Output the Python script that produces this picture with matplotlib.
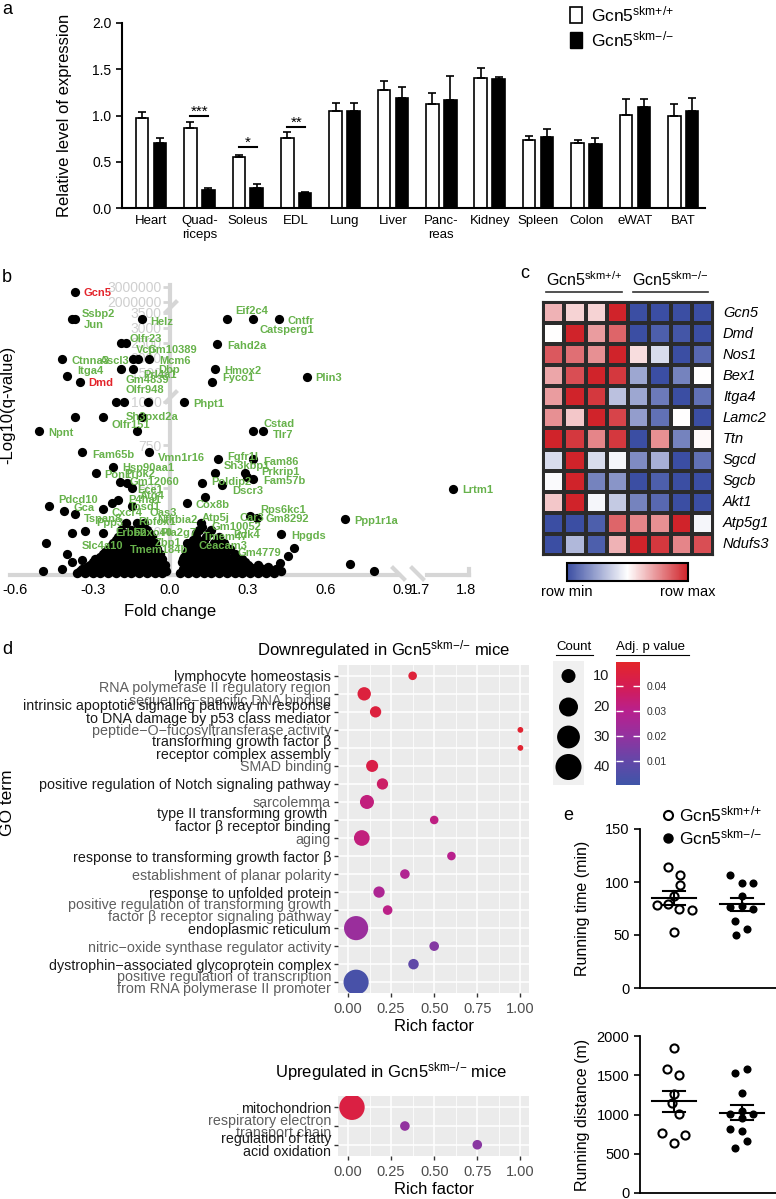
import numpy as np
import matplotlib
matplotlib.use('Agg')
import matplotlib.pyplot as plt
from matplotlib.colors import LinearSegmentedColormap, Normalize
from matplotlib.patches import Patch
from matplotlib.lines import Line2D
import matplotlib.cm as cm

plt.rcParams['font.family'] = ['Liberation Sans', 'DejaVu Sans']
plt.rcParams['mathtext.fontset'] = 'custom'
plt.rcParams['mathtext.rm'] = 'Liberation Sans'
plt.rcParams['mathtext.it'] = 'Liberation Sans:italic'
plt.rcParams['mathtext.bf'] = 'Liberation Sans:bold'

W, H = 776, 1199

def rect(l, t, r, b):
    return [l / W, 1 - b / H, (r - l) / W, (b - t) / H]

def fx(x):
    return x / W

def fy(y):
    return 1 - y / H

WT = r'Gcn5$^{\mathrm{skm{+}/{+}}}$'
KO = r'Gcn5$^{\mathrm{skm{-}/{-}}}$'

# ---------------- data ----------------
# panel a
tissues = ['Heart', 'Quad-\nriceps', 'Soleus', 'EDL', 'Lung', 'Liver', 'Panc-\nreas',
           'Kidney', 'Spleen', 'Colon', 'eWAT', 'BAT']
wt_mean = [0.97, 0.87, 0.55, 0.76, 1.05, 1.28, 1.12, 1.41, 0.73, 0.70, 1.01, 1.00]
wt_err = [0.07, 0.06, 0.02, 0.06, 0.08, 0.09, 0.12, 0.10, 0.05, 0.035, 0.17, 0.12]
ko_mean = [0.70, 0.20, 0.22, 0.16, 1.05, 1.19, 1.17, 1.40, 0.77, 0.69, 1.09, 1.05]
ko_err = [0.06, 0.02, 0.04, 0.01, 0.08, 0.12, 0.26, 0.02, 0.08, 0.07, 0.09, 0.14]
sig_idx = [1, 2, 3]
sig_y = [1.0, 0.66, 0.875]
sig_txt = ['***', '*', '**']

# panel b: volcano (fold change, -log10 q)
vol_fc = [-0.368, -0.38, -0.368, -0.108, -0.19, -0.17, -0.42, -0.143, -0.124, -0.081,
          -0.19, -0.143, -0.40, -0.35, -0.21, -0.18, -0.085, 0.055, -0.368, -0.26,
          -0.108, -0.13, -0.507, 0.22, 0.32, 0.42, 0.183, 0.174, 0.163, 0.53,
          0.322, 0.36, -0.34, -0.081, 0.185, 0.322, -0.22, -0.287, 0.174, 0.29,
          0.298, 0.322, -0.194, -0.167, -0.147, 0.124, 0.2, 1.77, 0.136, -0.468,
          -0.41, -0.368, -0.225, -0.2, -0.26, -0.147, 0.066, 0.31, 0.336, 0.678,
          -0.33, -0.38, -0.26, 0.43, 0.124, -0.48, 0.48, 0.066, -0.4, 0.457,
          0.694, 0.79, -0.49, -0.42, -0.38, -0.34, 0.426]
vol_q = [2.67e6, 3300, 3300, 3300, 2500, 2500, 1970, 1970, 1970, 1970,
         1633, 1633, 1448, 1343, 1000, 1000, 1000, 1000, 912, 912,
         912, 831, 831, 3300, 3300, 3300, 2467, 1633, 1343, 1435,
         831, 831, 710, 710, 669, 669, 623, 588, 588, 588,
         566, 554, 537, 531, 502, 531, 519, 496, 450, 398,
         369, 352, 415, 433, 381, 398, 415, 340, 329, 323,
         254, 242, 242, 237, 277, 185, 156, 185, 121, 110,
         63, 23, 23, 35, 75, 87, 69]
blob_q = [10, 22, 35, 47, 60, 75, 90, 105, 120, 135, 150, 168, 185, 200, 220, 240, 260, 300]
blob_fc = [
    [-0.36, -0.33, -0.30, -0.27, -0.24, -0.21, -0.18, -0.15, -0.12, -0.09, -0.06, -0.03,
     0.04, 0.07, 0.10, 0.13, 0.16, 0.19, 0.22, 0.25, 0.28, 0.31, 0.34, 0.37, 0.40],
    [-0.35, -0.315, -0.285, -0.255, -0.225, -0.195, -0.165, -0.135, -0.105, -0.075, -0.045,
     -0.015, 0.055, 0.085, 0.115, 0.145, 0.175, 0.205, 0.235, 0.265, 0.295, 0.325, 0.355,
     0.385, 0.43],
    [-0.34, -0.30, -0.26, -0.22, -0.19, -0.16, -0.13, -0.10, -0.07, -0.04,
     0.05, 0.08, 0.11, 0.14, 0.17, 0.20, 0.23, 0.26, 0.29, 0.32, 0.36, 0.41],
    [-0.32, -0.28, -0.245, -0.21, -0.175, -0.145, -0.115, -0.085, -0.055, -0.025,
     0.065, 0.095, 0.125, 0.155, 0.185, 0.215, 0.245, 0.28, 0.31, 0.345, 0.38],
    [-0.31, -0.27, -0.23, -0.20, -0.17, -0.14, -0.11, -0.08, -0.05, -0.02,
     0.06, 0.09, 0.12, 0.15, 0.18, 0.21, 0.24, 0.27, 0.30, 0.34],
    [-0.30, -0.26, -0.225, -0.19, -0.16, -0.13, -0.10, -0.07, -0.04,
     0.045, 0.075, 0.105, 0.135, 0.165, 0.195, 0.225, 0.26, 0.29],
    [-0.29, -0.25, -0.21, -0.18, -0.15, -0.12, -0.09, -0.06, -0.03,
     0.05, 0.08, 0.11, 0.14, 0.17, 0.20, 0.24, 0.28],
    [-0.27, -0.235, -0.2, -0.17, -0.14, -0.11, -0.08, -0.05, 0.055, 0.085, 0.115, 0.15,
     0.18, 0.22],
    [-0.26, -0.22, -0.19, -0.16, -0.13, -0.10, -0.07, -0.04, 0.06, 0.10, 0.13, 0.16, 0.20, 0.25],
    [-0.25, -0.21, -0.18, -0.15, -0.12, -0.09, -0.06, 0.065, 0.095, 0.13, 0.17, 0.21],
    [-0.24, -0.20, -0.17, -0.14, -0.11, -0.08, -0.05, 0.07, 0.11, 0.15, 0.19, 0.23],
    [-0.23, -0.19, -0.16, -0.13, -0.10, -0.07, 0.07, 0.10, 0.14, 0.19],
    [-0.22, -0.18, -0.15, -0.12, -0.09, -0.06, 0.08, 0.12, 0.17, 0.21],
    [-0.21, -0.17, -0.14, -0.11, -0.08, 0.09, 0.13],
    [-0.20, -0.16, -0.13, -0.10, -0.07, 0.10, 0.14, 0.19],
    [-0.18, -0.14, -0.11, -0.08, 0.10, 0.15],
    [-0.19, -0.15, -0.12, -0.09, 0.11, 0.16],
    [-0.17, -0.13, -0.10, 0.12],
]
green = '#67b24b'
red = '#e3242b'
vol_labels = [
    ('Gcn5', 83, 293, red), ('Ssbp2', 82, 314, green), ('Jun', 84, 325, green),
    ('Helz', 150, 322, green), ('Olfr23', 130, 339, green), ('Vcp', 136, 350, green),
    ('Gm10389', 148, 350, green), ('Ctnna3', 71, 361, green), ('Ascl3', 100, 361, green),
    ('Mcm6', 159, 361, green), ('Dbp', 158, 370, green), ('Prl4a1', 143, 375, green),
    ('Itga4', 77, 371, green), ('Dmd', 88, 383, red), ('Gm4839', 125, 380, green),
    ('Olfr948', 125, 390, green), ('Phpt1', 193, 404, green), ('Sh3pxd2a', 126, 417, green),
    ('Olfr151', 112, 425, green), ('Npnt', 48, 433, green),
    ('Eif2c4', 235, 311, green), ('Cntfr', 287, 321, green), ('Catsperg1', 260, 330, green),
    ('Fahd2a', 227, 346, green), ('Hmox2', 224, 371, green), ('Fyco1', 222, 378, green),
    ('Plin3', 315, 378, green), ('Cstad', 263, 424, green), ('Tlr7', 273, 435, green),
    ('Fam65b', 92, 455, green), ('Vmn1r16', 158, 458, green), ('Fgfr1l', 227, 457, green),
    ('Fam86', 263, 462, green), ('Sh3kbp1', 224, 466, green), ('Hsp90aa1', 122, 468, green),
    ('Prkrip1', 261, 472, green), ('Pon1', 104, 475, green), ('Prpk2', 124, 474, green),
    ('Gm12060', 130, 482, green), ('Poldip2', 211, 482, green), ('Fam57b', 263, 481, green),
    ('Ece1', 137, 490, green), ('Dscr3', 232, 491, green), ('Atg4', 140, 496, green),
    ('Pdcd10', 58, 500, green), ('P4ha1', 128, 500, green), ('Gca', 73, 508, green),
    ('Tosd1', 129, 507, green), ('Cox8b', 196, 505, green), ('Rps6kc1', 260, 510, green),
    ('Cxcr4', 112, 513, green), ('Oas3', 150, 513, green), ('Tspan8', 84, 519, green),
    ('Atp5j', 202, 518, green), ('Car3', 239, 518, green), ('Gm8292', 265, 519, green),
    ('Ppp1r1a', 354, 521, green), ('Ppp3', 96, 523, green), ('Rbfox1', 138, 522, green),
    ('Nfkbia2', 157, 520, green), ('Gm10052', 212, 527, green), ('Erbb2', 115, 533, green),
    ('Fbxo40', 133, 533, green), ('Pla2g7', 160, 533, green), ('Tmem47', 203, 537, green),
    ('Pdk4', 233, 535, green), ('Hpgds', 291, 536, green), ('Slc4a10', 82, 546, green),
    ('Zbp1', 155, 543, green), ('Ceacam3', 199, 546, green), ('Tmem184b', 130, 550, green),
    ('Gm4779', 237, 553, green), ('Lrtm1', 462, 490, green),
]
vol_yticks = [250, 500, 750, 1000, 1500, 2000, 2500, 3000, 3500, 2e6, 3e6]
vol_yticklabels = ['250', '500', '750', '1000', '1500', '2000', '2500', '3000', '3500',
                   '2000000', '3000000']
vol_xticks = [-0.6, -0.3, 0.0, 0.3, 0.6, 0.9, 1.7, 1.8]

# panel c heatmap
heat_genes = ['Gcn5', 'Dmd', 'Nos1', 'Bex1', 'Itga4', 'Lamc2', 'Ttn', 'Sgcd', 'Sgcb',
              'Akt1', 'Atp5g1', 'Ndufs3']
heat_values = [
    [0.35, 0.2, 0.2, 1.0, -1.0, -1.0, -1.0, -1.0],
    [0.0, 1.0, 0.45, 0.7, -1.0, -0.9, -0.95, -1.0],
    [0.75, 0.65, 0.5, 1.0, 0.15, -0.2, -1.0, -0.85],
    [0.4, 0.8, 1.0, 0.9, -0.5, -1.0, -0.7, 0.0],
    [0.45, 1.0, 0.9, -0.35, -0.5, -0.75, -1.0, -0.8],
    [0.5, 0.25, 1.0, 0.85, -0.55, -0.8, 0.0, -1.0],
    [1.0, 0.9, 0.55, 0.9, -1.0, 0.5, -0.7, 0.03],
    [-0.2, 1.0, -0.2, -0.05, -0.65, -0.45, -1.0, -0.8],
    [-0.03, 1.0, -0.7, -0.6, -1.0, -0.9, -1.0, -1.0],
    [0.25, 1.0, -0.05, -0.3, -0.7, -0.85, -1.0, -1.0],
    [-1.0, -1.0, -0.9, 0.7, 0.55, 0.5, 1.0, -0.05],
    [-1.0, -0.4, -0.9, 0.35, 1.0, 0.9, 0.55, 0.8],
]

# panel d GO enrichment
go_down = [
    'lymphocyte homeostasis',
    'RNA polymerase II regulatory region\nsequence\u2212specific DNA binding',
    'intrinsic apoptotic signaling pathway in response\nto DNA damage by p53 class mediator',
    'peptide\u2212O\u2212fucosyltransferase activity',
    'transforming growth factor \u03b2\nreceptor complex assembly',
    'SMAD binding',
    'positive regulation of Notch signaling pathway',
    'sarcolemma',
    'type II transforming growth \nfactor \u03b2 receptor binding',
    'aging',
    'response to transforming growth factor \u03b2',
    'establishment of planar polarity',
    'response to unfolded protein',
    'positive regulation of transforming growth\nfactor \u03b2 receptor signaling pathway',
    'endoplasmic reticulum',
    'nitric\u2212oxide synthase regulator activity',
    'dystrophin\u2212associated glycoprotein complex',
    'positive regulation of transcription\nfrom RNA polymerase II promoter',
]
rich_down = [0.375, 0.094, 0.16, 1.0, 1.0, 0.14, 0.2, 0.11, 0.5, 0.08, 0.6, 0.33, 0.18,
             0.23, 0.047, 0.5, 0.38, 0.047]
count_down = [3, 9, 6, 1, 1, 7, 6, 10, 3, 13, 3, 4, 6, 4, 34, 4, 5, 37]
p_down = [0.046, 0.045, 0.045, 0.048, 0.048, 0.043, 0.037, 0.033, 0.032, 0.033, 0.030,
          0.028, 0.027, 0.031, 0.022, 0.017, 0.009, 0.003]
go_up = ['mitochondrion', 'respiratory electron\ntransport chain',
         'regulation of fatty\nacid oxidation']
rich_up = [0.023, 0.33, 0.75]
count_up = [38, 4, 4]
p_up = [0.044, 0.02, 0.018]
legend_counts = [10, 20, 30, 40]

# panel e
time_wt = [114, 107, 97, 87, 78, 79, 75, 74, 53]
time_wt_dx = [-0.09, 0.09, 0.09, 0.0, -0.25, -0.09, 0.07, 0.26, 0.0]
time_ko = [107, 99, 99, 87, 76, 77, 75, 63, 56, 50]
time_ko_dx = [-0.18, 0.0, 0.16, 0.0, -0.18, 0.0, 0.16, -0.1, 0.07, -0.09]
dist_wt = [1851, 1574, 1499, 1260, 1146, 1008, 768, 743, 642]
dist_wt_dx = [0.0, -0.1, 0.07, 0.0, -0.03, 0.07, -0.18, 0.16, 0.0]
dist_ko = [1526, 1574, 1272, 1045, 1008, 1008, 958, 820, 792, 668, 577]
dist_ko_dx = [-0.1, 0.07, 0.0, 0.0, -0.18, 0.16, 0.0, -0.18, 0.0, 0.07, -0.1]

# ---------------- figure ----------------
fig = plt.figure(figsize=(W / 100, H / 100), dpi=100)

def panel_label(x, y, s):
    fig.text(fx(x), fy(y), s, fontsize=13, ha='left', va='center')

# ---- panel a ----
axa = fig.add_axes(rect(122, 23, 705, 208))
xa = np.arange(len(tissues))
ekw = dict(lw=1.2, capthick=1.2, ecolor='black')
axa.bar(xa - 0.185, wt_mean, 0.26, color='white', edgecolor='black', lw=1.2,
        yerr=[np.zeros(len(xa)), wt_err], capsize=3, error_kw=ekw)
axa.bar(xa + 0.185, ko_mean, 0.26, color='black', edgecolor='black', lw=1.2,
        yerr=[np.zeros(len(xa)), ko_err], capsize=3, error_kw=ekw)
for i, yv, s in zip(sig_idx, sig_y, sig_txt):
    axa.plot([i - 0.185, i + 0.185], [yv, yv], color='black', lw=1.5)
    axa.text(i, yv, s, ha='center', va='baseline', fontsize=11)
axa.set_xlim(-0.6, 11.45)
axa.set_ylim(0, 2.0)
axa.set_yticks([0, 0.5, 1.0, 1.5, 2.0], ['0.0', '0.5', '1.0', '1.5', '2.0'])
axa.set_xticks(xa, tissues)
for t in axa.get_xticklabels():
    t.set_linespacing(1.25)
axa.tick_params(axis='x', length=0, labelsize=9.5, pad=5)
axa.tick_params(axis='y', length=4, width=1.2, labelsize=10)
for s in ['top', 'right']:
    axa.spines[s].set_visible(False)
for s in ['left', 'bottom']:
    axa.spines[s].set_linewidth(1.5)
axa.set_ylabel('Relative level of expression', fontsize=12)
axa.yaxis.set_label_coords(-0.086, 0.5)
fig.legend(handles=[Patch(fc='white', ec='black', lw=1.2), Patch(fc='black', ec='black')],
           labels=[WT, KO], loc='upper left', bbox_to_anchor=(fx(570), fy(4)),
           frameon=False, fontsize=12.5, handlelength=0.7, handleheight=1.0,
           handletextpad=0.5, labelspacing=0.3, borderaxespad=0, borderpad=0)
panel_label(2, 9, 'a')

# ---- panel b ----
ys_break = [-100, 0, 1000, 1500, 3500, 2e6, 3e6, 4e6]
vs_break = [-17.33, 0, 173.3, 202, 262, 273, 288, 303]
xs_break = [-1.0, 0.9, 1.7, 2.0]
vx_break = [-258.3, 232.5, 250, 388]

def yfwd(v):
    return np.interp(v, ys_break, vs_break)

def yinv(v):
    return np.interp(v, vs_break, ys_break)

def xfwd(v):
    return np.interp(v, xs_break, vx_break)

def xinv(v):
    return np.interp(v, vx_break, xs_break)

axb = fig.add_axes(rect(10, 285, 470, 575))
axb.set_xscale('function', functions=(xfwd, xinv))
axb.set_yscale('function', functions=(yfwd, yinv))
axb.set_xlim(-0.6194, 1.808)
axb.set_ylim(0, 3.133e6)
axb.set_facecolor('none')
axb.set_axisbelow(True)
bx = []
by = []
for q, row in zip(blob_q, blob_fc):
    bx += row
    by += [q] * len(row)
axb.scatter(bx, by, s=46, c='black', linewidths=0, zorder=3, clip_on=False)
axb.scatter(vol_fc, vol_q, s=44, c='black', linewidths=0, zorder=3, clip_on=False)
for s in ['top', 'right', 'bottom']:
    axb.spines[s].set_visible(False)
axb.spines['left'].set_position(('data', 0))
axb.spines['left'].set_color('#d6d6d6')
axb.spines['left'].set_linewidth(3)
axb.spines['left'].set_zorder(0.5)
axb.set_yticks(vol_yticks, vol_yticklabels)
axb.tick_params(axis='y', colors='#d6d6d6', labelcolor='#cfcfcf', length=5, width=2,
                labelsize=10, pad=1)
axb.set_xticks(vol_xticks, ['-0.6', '-0.3', '0.0', '0.3', '0.6', '0.9', '1.7', '1.8'])
axb.tick_params(axis='x', length=0, labelsize=10.5, pad=6)
trb = axb.get_xaxis_transform()
axb.plot([-0.6194, 0.885], [0, 0], color='#d6d6d6', lw=3, transform=trb, clip_on=False, zorder=1)
axb.plot([1.715, 1.805], [0, 0], color='#d6d6d6', lw=3, transform=trb, clip_on=False, zorder=1)
axb.plot([1.805, 1.805], [0, 0.02], color='#d6d6d6', lw=3, transform=trb, clip_on=False, zorder=1)
for x0, x1, y0, y1 in [(393, 404, 568, 579), (412, 423, 568, 579)]:
    fig.add_artist(Line2D([fx(x0), fx(x1)], [fy(y0), fy(y1)], color='#d6d6d6', lw=3))
for y0 in [307, 397]:
    fig.add_artist(Line2D([fx(166), fx(176)], [fy(y0 + 5), fy(y0 - 5)], color='#d6d6d6', lw=3))
axb.set_xlabel('Fold change', fontsize=12)
axb.xaxis.set_label_coords((170 - 10) / 460, -0.10)
fig.text(fx(8), fy(405), '-Log10(q-value)', rotation=90, fontsize=12, ha='center', va='center')
for txt, lx, ly, col in vol_labels:
    fig.text(fx(lx), fy(ly), txt, color=col, fontsize=8, fontweight='bold',
             ha='left', va='center', zorder=5)
panel_label(2, 278, 'b')

# ---- panel c ----
hcmap = LinearSegmentedColormap.from_list('hm', ['#3b4ea3', '#ffffff', '#d0232a'])
axh = fig.add_axes(rect(543, 302, 713, 555))
axh.pcolormesh(np.array(heat_values), cmap=hcmap, vmin=-1, vmax=1,
               edgecolors='#2b2b2b', linewidth=1.5)
axh.set_xlim(0, 8)
axh.set_ylim(len(heat_genes), 0)
axh.set_xticks([])
axh.set_yticks([])
for s in axh.spines.values():
    s.set_linewidth(1.5)
    s.set_color('#2b2b2b')
for i, g in enumerate(heat_genes):
    fig.text(fx(723), fy(302 + 21.08 * (i + 0.5)), g, fontsize=10.5, style='italic',
             ha='left', va='center')
fig.text(fx(584), fy(280), WT, fontsize=11.5, ha='center', va='center')
fig.text(fx(670), fy(280), KO, fontsize=11.5, ha='center', va='center')
fig.add_artist(Line2D([fx(546), fx(622)], [fy(292), fy(292)], color='#333333', lw=1.2))
fig.add_artist(Line2D([fx(633), fx(708)], [fy(292), fy(292)], color='#333333', lw=1.2))
axhc = fig.add_axes(rect(567, 563, 688, 581))
cbh = fig.colorbar(cm.ScalarMappable(Normalize(-1, 1), hcmap), cax=axhc, orientation='horizontal')
cbh.set_ticks([])
cbh.outline.set_linewidth(1.5)
fig.text(fx(567), fy(592), 'row min', fontsize=10.5, ha='center', va='center')
fig.text(fx(688), fy(592), 'row max', fontsize=10.5, ha='center', va='center')
panel_label(520, 274, 'c')

# ---- panel d ----
gocmap = LinearSegmentedColormap.from_list(
    'go', [(0.0, '#3f55a8'), (0.2, '#6447a8'), (0.4, '#93329f'), (0.6, '#b8208e'),
           (0.8, '#d41c55'), (1.0, '#e3262b')])
pnorm = Normalize(0.0004, 0.0496)

def dot_size(c):
    d = 2 + 3.8 * np.sqrt(np.asarray(c, dtype=float))
    return (d * 0.72) ** 2

def go_axes(ax, terms, rich, counts, pvals):
    ypos = np.arange(len(terms))
    ax.set_facecolor('#ebebeb')
    ax.scatter(rich, ypos, s=dot_size(counts), c=pvals, cmap=gocmap, norm=pnorm,
               linewidths=0, zorder=3)
    ax.set_xlim(-0.058, 1.05)
    ax.set_ylim(len(terms) - 0.4, -0.6)
    ax.set_xticks([0, 0.25, 0.5, 0.75, 1.0], ['0.00', '0.25', '0.50', '0.75', '1.00'])
    ax.set_xticks([0.125, 0.375, 0.625, 0.875], minor=True)
    ax.set_yticks(ypos, terms)
    ax.grid(which='major', color='white', lw=1.1)
    ax.grid(which='minor', axis='x', color='white', lw=0.55)
    ax.set_axisbelow(True)
    for s in ax.spines.values():
        s.set_visible(False)
    ax.tick_params(which='major', length=3, width=1, color='#333333', labelsize=10.5,
                   labelcolor='#4d4d4d')
    ax.tick_params(which='minor', length=0)
    ax.tick_params(axis='y', labelsize=10.3, pad=2)
    for i, t in enumerate(ax.get_yticklabels()):
        t.set_linespacing(0.85)
        t.set_color('#1a1a1a' if i % 2 == 0 else '#5e5e5e')
    ax.set_xlabel('Rich factor', fontsize=12, labelpad=2)

axd = fig.add_axes(rect(338, 665, 529, 993))
go_axes(axd, go_down, rich_down, count_down, p_down)
fig.text(fx(257), fy(650), 'Downregulated in ' + KO + ' mice', fontsize=12, ha='left', va='center')
axd2 = fig.add_axes(rect(338, 1096, 529, 1156))
go_axes(axd2, go_up, rich_up, count_up, p_up)
fig.text(fx(275), fy(1072), 'Upregulated in ' + KO + ' mice', fontsize=12, ha='left', va='center')
fig.text(fx(8), fy(803), 'GO term', rotation=90, fontsize=12.5, ha='center', va='center')
panel_label(2, 650, 'd')

axdc = fig.add_axes(rect(616, 662, 640, 785))
cbd = fig.colorbar(cm.ScalarMappable(pnorm, gocmap), cax=axdc)
cbd.outline.set_visible(False)
cbd.set_ticks([0.01, 0.02, 0.03, 0.04], labels=['0.01', '0.02', '0.03', '0.04'])
axdc.tick_params(direction='in', color='white', length=5, width=1, left=True, right=True,
                 labelsize=7.5, labelcolor='#333333', pad=5)
fig.text(fx(616), fy(647), 'Adj. p value', fontsize=9.5, ha='left', va='center')
fig.add_artist(Line2D([fx(616), fx(689)], [fy(655), fy(655)], color='black', lw=0.8))
fig.text(fx(556), fy(647), 'Count', fontsize=9.5, ha='left', va='center')
fig.add_artist(Line2D([fx(556), fx(593)], [fy(655), fy(655)], color='black', lw=0.8))

axl = fig.add_axes(rect(553, 661, 584, 785))
axl.set_facecolor('#f0f0f0')
leg_y = [676, 707, 737, 767]
axl.scatter([0.5] * 4, leg_y, s=dot_size(legend_counts), c='black', linewidths=0)
axl.set_xlim(0, 1)
axl.set_ylim(785, 661)
for c, yv in zip(legend_counts, leg_y):
    axl.text(1.3, yv, str(c), fontsize=10.5, ha='left', va='center', color='#1a1a1a')
axl.set_xticks([])
axl.set_yticks([])
for s in axl.spines.values():
    s.set_visible(False)

# ---- panel e ----
def dot_plot(ax, wt, wt_dx, ko, ko_dx, ymax, yticks, ylabel):
    ax.scatter(1 + np.array(wt_dx), wt, s=34, facecolors='white', edgecolors='black',
               linewidths=1.5, zorder=3, clip_on=False)
    ax.scatter(2 + np.array(ko_dx), ko, s=34, c='black', linewidths=0, zorder=3, clip_on=False)
    for xc, vals in [(1, wt), (2, ko)]:
        m = np.mean(vals)
        se = np.std(vals, ddof=1) / np.sqrt(len(vals))
        ax.plot([xc - 0.32, xc + 0.32], [m, m], color='black', lw=1.5, zorder=4)
        ax.plot([xc, xc], [m - se, m + se], color='black', lw=1.5, zorder=4)
        for yy in [m - se, m + se]:
            ax.plot([xc - 0.16, xc + 0.16], [yy, yy], color='black', lw=1.5, zorder=4)
    ax.set_xlim(0.5, 2.5)
    ax.set_ylim(0, ymax)
    ax.set_yticks(yticks)
    ax.set_xticks([])
    for s in ['top', 'right']:
        ax.spines[s].set_visible(False)
    for s in ['left', 'bottom']:
        ax.spines[s].set_linewidth(1.3)
    ax.tick_params(axis='y', length=4, width=1.2, labelsize=10.5)
    ax.set_ylabel(ylabel, fontsize=11.5)
    ax.yaxis.set_label_coords(-0.37, 0.5)

axe1 = fig.add_axes(rect(640, 829, 776, 988))
dot_plot(axe1, time_wt, time_wt_dx, time_ko, time_ko_dx, 150, [0, 50, 100, 150],
         'Running time (min)')
axe2 = fig.add_axes(rect(640, 1036, 776, 1193))
dot_plot(axe2, dist_wt, dist_wt_dx, dist_ko, dist_ko_dx, 2000, [0, 500, 1000, 1500, 2000],
         'Running distance (m)')
fig.legend(handles=[Line2D([], [], marker='o', ls='', mfc='white', mec='black', mew=1.5, ms=6.5),
                    Line2D([], [], marker='o', ls='', mfc='black', mec='black', ms=6.5)],
           labels=[WT, KO], loc='upper left', bbox_to_anchor=(fx(660), fy(804)),
           frameon=False, fontsize=12.5, handlelength=0.9, handletextpad=0.2,
           labelspacing=0.2, borderaxespad=0, borderpad=0)
panel_label(563, 815, 'e')

fig.savefig('out.png', dpi=100)
